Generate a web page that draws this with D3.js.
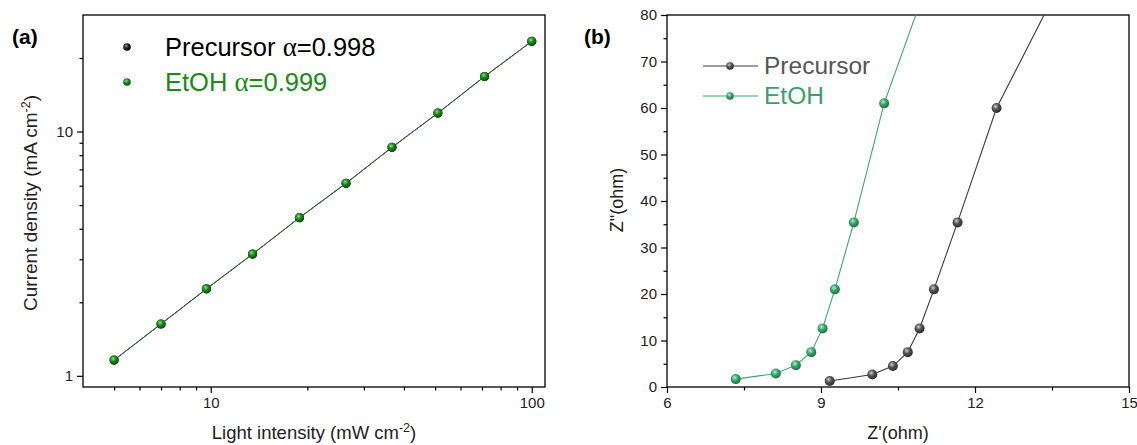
<!DOCTYPE html>
<html lang="en">
<head>
<meta charset="utf-8">
<title>Light intensity and impedance</title>
<script src="https://cdn.jsdelivr.net/npm/d3@7"></script>
<style>
body { margin: 0; background: #fff; }
svg { display: block; font-family: "Liberation Sans", Arial, sans-serif; }
.alpha { font-family: "Liberation Serif", "Times New Roman", serif; }
</style>
</head>
<body>
<script>
// panel (a): current density vs light intensity (log-log)
var intensity = [5, 7, 9.7, 13.5, 18.9, 26.4, 36.7, 51, 71.3, 100];
var jPrecursor = [1.16, 1.63, 2.27, 3.15, 4.44, 6.14, 8.62, 11.9, 16.8, 23.4];
var jEtOH = [1.16, 1.63, 2.27, 3.15, 4.44, 6.14, 8.62, 11.9, 16.8, 23.4];
var legendA = ["Precursor", "EtOH"];
var alphaA = ["0.998", "0.999"];

// panel (b): Nyquist, Z' vs Z''
var zRePrecursor = [9.17, 10.0, 10.4, 10.69, 10.92, 11.2, 11.66, 12.42, 13.9];
var zImPrecursor = [1.3, 2.7, 4.5, 7.5, 12.6, 21.0, 35.4, 60.0, 92];
var zReEtOH = [7.34, 8.12, 8.51, 8.81, 9.03, 9.27, 9.64, 10.23, 11.3];
var zImEtOH = [1.7, 2.9, 4.7, 7.5, 12.6, 21.0, 35.4, 61.0, 94];
var xTicksB = [6, 9, 12, 15];
var yTicksB = [0, 10, 20, 30, 40, 50, 60, 70, 80];

var svg = d3.select("body").append("svg").attr("width", 1137).attr("height", 445);
var defs = svg.append("defs");

function sphere(id, light, base, dark) {
  var g = defs.append("radialGradient").attr("id", id)
    .attr("cx", "40%").attr("cy", "35%").attr("r", "65%");
  g.append("stop").attr("offset", "0%").attr("stop-color", light);
  g.append("stop").attr("offset", "45%").attr("stop-color", base);
  g.append("stop").attr("offset", "100%").attr("stop-color", dark);
}
sphere("ballBlack", "#9a9a9a", "#222", "#000");
sphere("ballGreen", "#8fe08f", "#1a8a1a", "#0b4d0b");
sphere("ballGray", "#d0d0d0", "#555", "#2a2a2a");
sphere("ballTeal", "#b5f0cf", "#3aa96b", "#1d6e42");

// ---------- panel (a) ----------
var ax = d3.scaleLog().domain([4, 110]).range([83, 545]);
var ay = d3.scaleLog().domain([0.9, 30]).range([387, 15]);

var pa = svg.append("g");
pa.append("clipPath").attr("id", "clipA").append("rect")
  .attr("x", 83).attr("y", 15).attr("width", 462).attr("height", 372);

var xMinorA = [5, 6, 7, 8, 9, 20, 30, 40, 50, 60, 70, 80, 90];
var yMinorA = [2, 3, 4, 5, 6, 7, 8, 9, 20];

pa.append("g").attr("transform", "translate(0,387)")
  .call(d3.axisBottom(ax).tickValues([10, 100]).tickFormat(d3.format("d")).tickSize(6).tickPadding(4))
  .call(g => g.select(".domain").remove());
pa.append("g").attr("transform", "translate(0,387)")
  .call(d3.axisBottom(ax).tickValues(xMinorA).tickFormat("").tickSize(3.5))
  .call(g => g.select(".domain").remove());
pa.append("g").attr("transform", "translate(83,0)")
  .call(d3.axisLeft(ay).tickValues([1, 10]).tickFormat(d3.format("d")).tickSize(6).tickPadding(4))
  .call(g => g.select(".domain").remove());
pa.append("g").attr("transform", "translate(83,0)")
  .call(d3.axisLeft(ay).tickValues(yMinorA).tickFormat("").tickSize(3.5))
  .call(g => g.select(".domain").remove());

pa.append("rect").attr("x", 83).attr("y", 15).attr("width", 462).attr("height", 372)
  .attr("fill", "none").attr("stroke", "#000").attr("stroke-width", 1.3);

var lineA = d3.line().x(d => ax(d[0])).y(d => ay(d[1]));
var seriesA = [
  { pts: d3.zip(intensity, jPrecursor), ball: "ballBlack", line: "#000" },
  { pts: d3.zip(intensity, jEtOH), ball: "ballGreen", line: "#2a8a2a" }
];
seriesA.forEach(function (s) {
  pa.append("path").attr("d", lineA(s.pts)).attr("fill", "none")
    .attr("stroke", s.line).attr("stroke-width", 0.8).attr("clip-path", "url(#clipA)");
});
pa.append("path").attr("d", lineA(seriesA[0].pts)).attr("fill", "none")
  .attr("stroke", "#222").attr("stroke-width", 0.6).attr("stroke-dasharray", "2,1.5");
seriesA.forEach(function (s) {
  pa.selectAll(null).data(s.pts).enter().append("circle")
    .attr("cx", d => ax(d[0])).attr("cy", d => ay(d[1])).attr("r", 4.6)
    .attr("fill", "url(#" + s.ball + ")");
});

var legA = [["#000", "ballBlack"], ["#1a8a1a", "ballGreen"]];
legA.forEach(function (c, i) {
  var y = 47 + i * 35;
  pa.append("circle").attr("cx", 127).attr("cy", y).attr("r", 3.8).attr("fill", "url(#" + c[1] + ")");
  var t = pa.append("text").attr("x", 165).attr("y", y + 9).attr("font-size", 25.5).attr("fill", c[0]);
  t.append("tspan").text(legendA[i] + " ");
  t.append("tspan").attr("class", "alpha").attr("font-size", 27).text("\u03b1");
  t.append("tspan").text("=" + alphaA[i]);
});

pa.append("text").attr("x", 12).attr("y", 44).attr("font-size", 21).attr("font-weight", "bold").text("(a)");

var tya = pa.append("text").attr("transform", "translate(37,203) rotate(-90)")
  .attr("text-anchor", "middle").attr("font-size", 19).attr("fill", "#222");
tya.append("tspan").text("Current density (mA cm");
tya.append("tspan").attr("dy", -7).attr("font-size", 12.5).text("-2");
tya.append("tspan").attr("dy", 7).text(")");

var txa = pa.append("text").attr("x", 314).attr("y", 439)
  .attr("text-anchor", "middle").attr("font-size", 18.5).attr("fill", "#222");
txa.append("tspan").text("Light intensity (mW cm");
txa.append("tspan").attr("dy", -7).attr("font-size", 12.5).text("-2");
txa.append("tspan").attr("dy", 7).text(")");

// ---------- panel (b) ----------
var bx = d3.scaleLinear().domain([6, 15]).range([667, 1129]);
var by = d3.scaleLinear().domain([0, 80]).range([387, 15]);

var pb = svg.append("g");
pb.append("clipPath").attr("id", "clipB").append("rect")
  .attr("x", 667).attr("y", 15).attr("width", 462).attr("height", 372);

pb.append("g").attr("transform", "translate(0,387)")
  .call(d3.axisBottom(bx).tickValues(xTicksB).tickSize(6).tickPadding(4))
  .call(g => g.select(".domain").remove());
pb.append("g").attr("transform", "translate(0,387)")
  .call(d3.axisBottom(bx).tickValues([7.5, 10.5, 13.5]).tickFormat("").tickSize(3.5))
  .call(g => g.select(".domain").remove());
pb.append("g").attr("transform", "translate(667,0)")
  .call(d3.axisLeft(by).tickValues(yTicksB).tickSize(6).tickPadding(4))
  .call(g => g.select(".domain").remove());
pb.append("g").attr("transform", "translate(667,0)")
  .call(d3.axisLeft(by).tickValues(d3.range(5, 80, 10)).tickFormat("").tickSize(3.5))
  .call(g => g.select(".domain").remove());

pb.append("rect").attr("x", 667).attr("y", 15).attr("width", 462).attr("height", 372)
  .attr("fill", "none").attr("stroke", "#000").attr("stroke-width", 1.3);

var lineB = d3.line().x(d => bx(d[0])).y(d => by(d[1]));
var seriesB = [
  { pts: d3.zip(zRePrecursor, zImPrecursor), ball: "ballGray", line: "#3a3a3a", text: "#555" },
  { pts: d3.zip(zReEtOH, zImEtOH), ball: "ballTeal", line: "#3aa96b", text: "#3aa06b" }
];
var clipG = pb.append("g").attr("clip-path", "url(#clipB)");
seriesB.forEach(function (s) {
  clipG.append("path").attr("d", lineB(s.pts)).attr("fill", "none")
    .attr("stroke", s.line).attr("stroke-width", 1.1);
  clipG.selectAll(null).data(s.pts).enter().append("circle")
    .attr("cx", d => bx(d[0])).attr("cy", d => by(d[1])).attr("r", 5)
    .attr("fill", "url(#" + s.ball + ")");
});

["Precursor", "EtOH"].forEach(function (name, i) {
  var s = seriesB[i], y = 66 + i * 30;
  pb.append("line").attr("x1", 703).attr("x2", 758).attr("y1", y).attr("y2", y)
    .attr("stroke", s.line).attr("stroke-width", 1.1);
  pb.append("circle").attr("cx", 730).attr("cy", y).attr("r", 3.8).attr("fill", "url(#" + s.ball + ")");
  pb.append("text").attr("x", 764).attr("y", y + 8).attr("font-size", 24.5).attr("fill", s.text).text(name);
});

pb.append("text").attr("x", 584).attr("y", 44).attr("font-size", 21).attr("font-weight", "bold").text("(b)");

pb.append("text").attr("transform", "translate(623,200) rotate(-90)")
  .attr("text-anchor", "middle").attr("font-size", 18).attr("fill", "#222").text("Z\"(ohm)");
pb.append("text").attr("x", 898).attr("y", 439)
  .attr("text-anchor", "middle").attr("font-size", 18).attr("fill", "#222").text("Z'(ohm)");

svg.selectAll(".tick text").attr("font-size", 15).attr("fill", "#222")
  .attr("font-family", "'Liberation Sans', Arial, sans-serif");
svg.selectAll(".tick line").attr("stroke", "#000").attr("stroke-width", 1.2);
</script>
</body>
</html>
